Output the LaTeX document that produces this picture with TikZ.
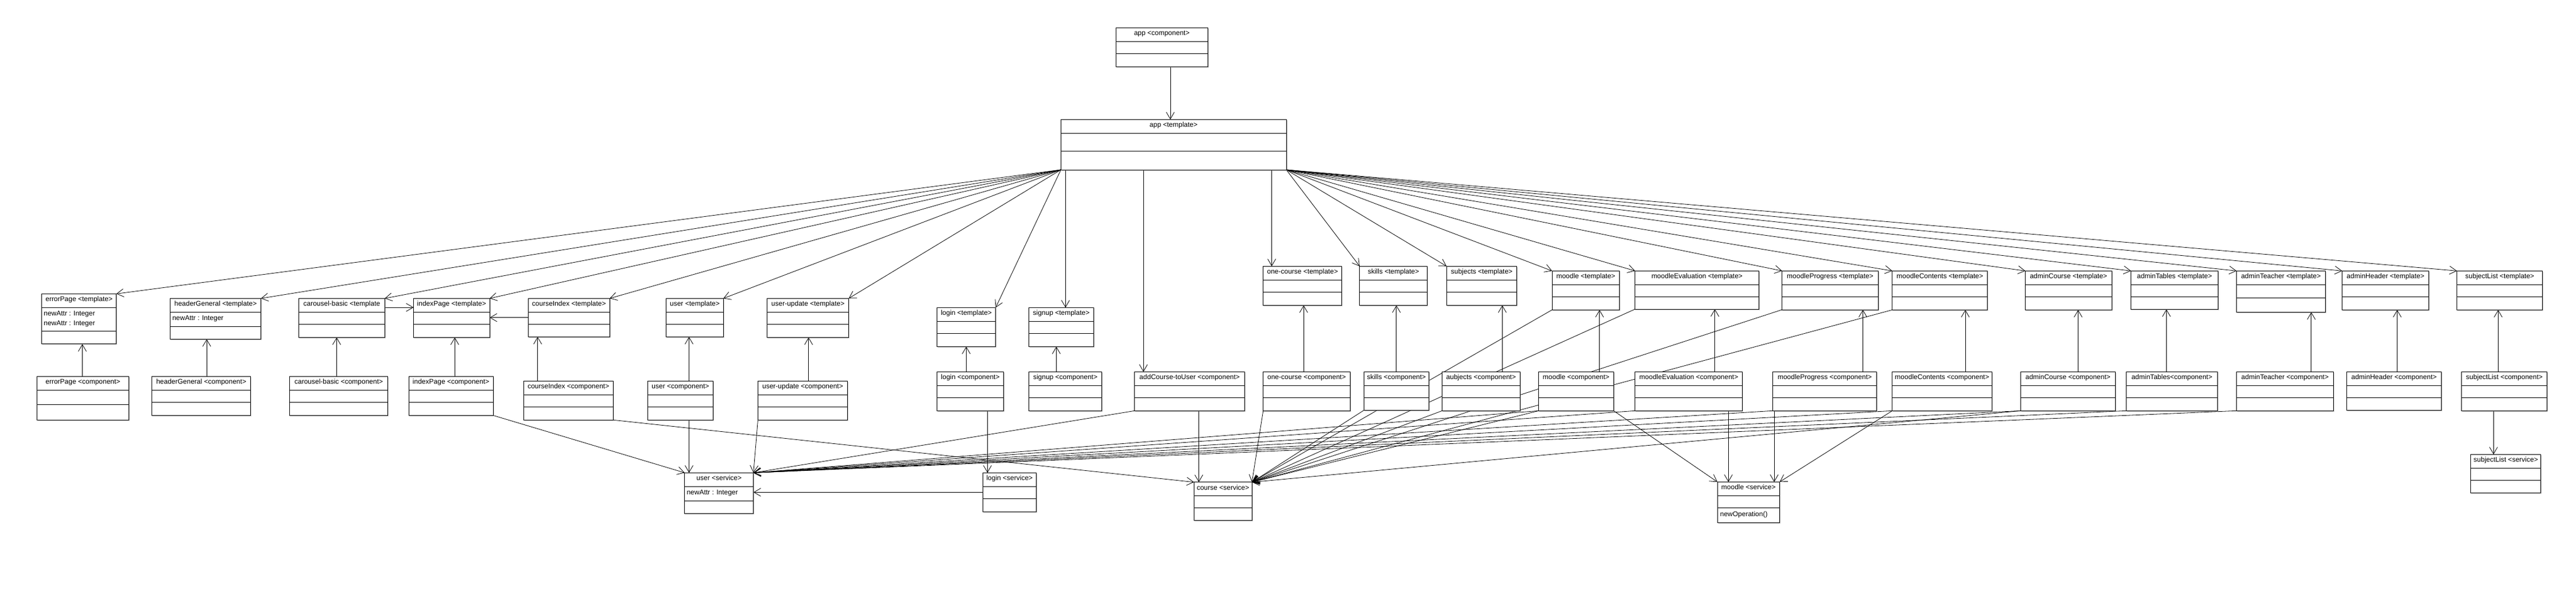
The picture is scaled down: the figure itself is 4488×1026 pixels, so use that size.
\documentclass[tikz,border=0pt]{standalone}
\usepackage{fontspec}
\setmainfont{Liberation Sans}
\usetikzlibrary{arrows.meta, calc, shadows, backgrounds}

% class box: name, left, top, width, middle height, bottom height, title
\newcommand{\classbox}[7]{%
  \node[classframe, minimum width=#4pt, minimum height={24pt+#5pt+#6pt}] (#1) at (#2,#3) {};
  \node[classtitle] (#1-title) at ([yshift=-13.5pt]#1.north) {#7};
  \draw[classline] ([yshift=-24pt]#1.north west) -- ([yshift=-24pt]#1.north east);
  \draw[classline] ([yshift={-24pt-#5pt}]#1.north west) -- ([yshift={-24pt-#5pt}]#1.north east);
}

\begin{document}
\begin{tikzpicture}[x=1pt, y=-1pt,
  classframe/.style={draw, fill=white, line width=1pt, anchor=north west, inner sep=0pt, outer sep=0pt,
    drop shadow={shadow xshift=1.5pt, shadow yshift=-1.5pt, fill=black!40, opacity=0.5}},
  classtitle/.style={anchor=base, inner sep=0pt, font=\fontsize{12}{14}\selectfont},
  classtext/.style={anchor=base west, inner sep=0pt, font=\fontsize{12}{14}\selectfont},
  classline/.style={line width=1pt},
  dep/.style={line width=0.8pt, -{Straight Barb[length=12pt, width=14pt]}}]
\useasboundingbox (0,0) rectangle (4488,1026);

% App
\classbox{appc}{1944}{48.3}{160.3}{21}{23}{app <component>}
\classbox{appt}{1848.3}{208.3}{392.7}{31}{32.7}{app <template>}

% Templates
\classbox{errt}{72.7}{512.3}{130}{41.6}{22}{errorPage <template>}
\classbox{hdrt}{296.6}{520.3}{158}{25}{22}{headerGeneral <template>}
\classbox{cart}{520.6}{520.3}{149.7}{21}{23}{carousel-basic <template}
\classbox{idxt}{720.4}{520.3}{132.7}{21}{23}{indexPage <template>}
\classbox{cidxt}{920.4}{520.3}{141.8}{21}{22}{courseIndex <template>}
\classbox{usert}{1160.7}{520.3}{99.5}{21}{22}{user <template>}
\classbox{updt}{1336.7}{520.3}{141.9}{21}{23}{user-update <template>}
\classbox{logint}{1632.5}{536.3}{102.2}{21}{23}{login <template>}
\classbox{signt}{1792.5}{536.3}{112.9}{21}{23}{signup <template>}
\classbox{onet}{2200.7}{464.3}{137.2}{21}{23}{one-course <template>}
\classbox{skillt}{2368.9}{464.3}{117.6}{21}{23}{skills <template>}
\classbox{subjt}{2520.4}{464.3}{122.2}{21}{23}{subjects <template>}
\classbox{moodt}{2704}{472.3}{117.7}{21}{23}{moodle <template>}
\classbox{evalt}{2848.7}{472.3}{215.8}{21}{21.7}{moodleEvaluation <template>}
\classbox{progt}{3104.7}{472.3}{167.6}{21}{22.7}{moodleProgress <template>}
\classbox{contt}{3296.7}{472.3}{166.1}{21}{23}{moodleContents <template>}
\classbox{acrst}{3528.5}{472.3}{150.7}{21}{23}{adminCourse <template>}
\classbox{atabt}{3712.6}{472.3}{151.7}{21}{22}{adminTables <template>}
\classbox{ateat}{3896.5}{472.3}{154.8}{23}{25}{adminTeacher <template>}
\classbox{ahdrt}{4080.5}{472.3}{151.3}{21}{23}{adminHeader <template>}
\classbox{slstt}{4280.5}{472.3}{149.3}{21}{23}{subjectList <template>}
\node[classtext] (errt-a1) at ([xshift=3.5pt, yshift=-38.4pt]errt.north west) {newAttr : Integer};
\node[classtext] (errt-a2) at ([xshift=3.5pt, yshift=-55.1pt]errt.north west) {newAttr : Integer};
\node[classtext] (hdrt-a1) at ([xshift=3.5pt, yshift=-38.4pt]hdrt.north west) {newAttr : Integer};

% Components
\classbox{errc}{64.5}{656.3}{159.9}{25}{27}{errorPage <component>}
\classbox{hdrc}{264.6}{656.3}{172.1}{21}{23}{headerGeneral <component>}
\classbox{carc}{504.6}{656.3}{171.1}{21}{23}{carousel-basic <component>}
\classbox{idxc}{712.2}{656.3}{147}{21}{23}{indexPage <component>}
\classbox{cidxc}{912.2}{664.3}{156.2}{21}{23}{courseIndex <component>}
\classbox{userc}{1128.6}{664.3}{113.7}{21}{23}{user <component>}
\classbox{updc}{1320.4}{664.3}{156.1}{21}{23}{user-update <component>}
\classbox{loginc}{1632.5}{648.3}{116}{21}{23}{login <component>}
\classbox{signc}{1792.5}{648.3}{127.1}{21}{23}{signup <component>}
\classbox{addc}{1976.6}{648.3}{192}{21}{23}{addCourse-toUser <component>}
\classbox{onec}{2200.7}{648.3}{151.5}{21}{23}{one-course <component>}
\classbox{skillc}{2376.3}{648.3}{113.1}{21}{22}{skills <component>}
\classbox{subjc}{2512.3}{648.3}{136.1}{21}{23}{aubjects <component>}
\classbox{moodc}{2680.5}{648.3}{130.9}{21}{23}{moodle <component>}
\classbox{evalc}{2848.7}{648.3}{187.1}{21}{23}{moodleEvaluation <component>}
\classbox{progc}{3088.3}{648.3}{181.5}{21}{23}{moodleProgress <component>}
\classbox{contc}{3296.7}{648.3}{173.6}{21}{23}{moodleContents <component>}
\classbox{acrsc}{3520.5}{648.3}{164.7}{21}{23}{adminCourse <component>}
\classbox{atabc}{3704.5}{648.3}{158.8}{21}{23}{adminTables<component>}
\classbox{ateac}{3896.5}{648.3}{168.9}{21}{23}{adminTeacher <component>}
\classbox{ahdrc}{4088.5}{648.3}{164.9}{21}{22}{adminHeader <component>}
\classbox{slstc}{4288.5}{648.3}{149.3}{21}{23}{subjectList <component>}

% Services
\classbox{users}{1192.8}{824.3}{119.9}{25}{22.4}{user <service>}
\classbox{logins}{1712.6}{824.3}{92.6}{21}{23}{login <service>}
\classbox{crss}{2080.2}{840.7}{101}{21}{22}{course <service>}
\classbox{moods}{2992.1}{840.3}{108.4}{21}{26}{moodle <service>}
\classbox{slsts}{4304.6}{792.3}{122.2}{21}{21.7}{subjectList <service>}
\node[classtext] (users-a1) at ([xshift=3.5pt, yshift=-38pt]users.north west) {newAttr : Integer};
\node[classtext] (moods-o1) at ([xshift=4.5pt, yshift=-59.7pt]moods.north west) {newOperation()};

\begin{scope}[on background layer]
\fill[white] (0,0) rectangle (4488,1026);

% app component to app template
\draw[dep] ([xshift=14.8pt]appc.south) -- ([xshift=14.8pt]appc.south |- appt.north);

% app template to the templates on the left
\draw[dep] (appt.south west) -- (errt.north east);
\draw[dep] (appt.south west) -- (hdrt.north east);
\draw[dep] (appt.south west) -- (cart.north east);
\draw[dep] (appt.south west) -- (idxt.north east);
\draw[dep] (appt.south west) -- (cidxt.north east);
\draw[dep] (appt.south west) -- (usert.north east);
\draw[dep] (appt.south west) -- (updt.north east);
\draw[dep] (appt.south west) -- (logint.north east);

% app template straight down
\draw[dep] ([xshift=7.4pt]signt.north |- appt.south) -- ([xshift=7.4pt]signt.north);
\draw[dep] ([xshift=-80.5pt]addc.north |- appt.south) -- ([xshift=-80.5pt]addc.north);
\draw[dep] ([xshift=-53.7pt]onet.north |- appt.south) -- ([xshift=-53.7pt]onet.north);

% app template to the templates on the right
\draw[dep] (appt.south east) -- (skillt.north west);
\draw[dep] (appt.south east) -- (subjt.north west);
\draw[dep] (appt.south east) -- (moodt.north west);
\draw[dep] (appt.south east) -- (evalt.north west);
\draw[dep] (appt.south east) -- (progt.north west);
\draw[dep] (appt.south east) -- (contt.north west);
\draw[dep] (appt.south east) -- (acrst.north west);
\draw[dep] (appt.south east) -- (atabt.north west);
\draw[dep] (appt.south east) -- (ateat.north west);
\draw[dep] (appt.south east) -- (ahdrt.north west);
\draw[dep] (appt.south east) -- (slstt.north west);

% templates to indexPage template
\draw[dep] ([yshift=18.3pt]cart.east) -- ([yshift=18.3pt]cart.east -| idxt.west);
\draw[dep] (cidxt.west) -- (cidxt.west -| idxt.east);

% components up to their templates
\draw[dep] ([xshift=-1pt]errc.north) -- ([xshift=-1pt]errc.north |- errt.south);
\draw[dep] ([xshift=9.5pt]hdrc.north) -- ([xshift=9.5pt]hdrc.north |- hdrt.south);
\draw[dep] ([xshift=-3.6pt]carc.north) -- ([xshift=-3.6pt]carc.north |- cart.south);
\draw[dep] ([xshift=6.6pt]idxc.north) -- ([xshift=6.6pt]idxc.north |- idxt.south);
\draw[dep] ([xshift=-53.6pt]cidxc.north) -- ([xshift=-53.6pt]cidxc.north |- cidxt.south);
\draw[dep] ([xshift=15pt]userc.north) -- ([xshift=15pt]userc.north |- usert.south);
\draw[dep] ([xshift=10.3pt]updc.north) -- ([xshift=10.3pt]updc.north |- updt.south);
\draw[dep] ([xshift=-7.1pt]loginc.north) -- ([xshift=-7.1pt]loginc.north |- logint.south);
\draw[dep] ([xshift=-15.7pt]signc.north) -- ([xshift=-15.7pt]signc.north |- signt.south);
\draw[dep] ([xshift=-5.2pt]onec.north) -- ([xshift=-5.2pt]onec.north |- onet.south);
\draw[dep] (skillc.north) -- (skillc.north |- skillt.south);
\draw[dep] ([xshift=37pt]subjc.north) -- ([xshift=37pt]subjc.north |- subjt.south);
\draw[dep] ([xshift=40.8pt]moodc.north) -- ([xshift=40.8pt]moodc.north |- moodt.south);
\draw[dep] ([xshift=45.4pt]evalc.north) -- ([xshift=45.4pt]evalc.north |- evalt.south);
\draw[dep] ([xshift=66.5pt]progc.north) -- ([xshift=66.5pt]progc.north |- progt.south);
\draw[dep] ([xshift=40.5pt]contc.north) -- ([xshift=40.5pt]contc.north |- contt.south);
\draw[dep] ([xshift=17.7pt]acrsc.north) -- ([xshift=17.7pt]acrsc.north |- acrst.south);
\draw[dep] ([xshift=-9.5pt]atabc.north) -- ([xshift=-9.5pt]atabc.north |- atabt.south);
\draw[dep] ([xshift=45.8pt]ateac.north) -- ([xshift=45.8pt]ateac.north |- ateat.south);
\draw[dep] ([xshift=5.5pt]ahdrc.north) -- ([xshift=5.5pt]ahdrc.north |- ahdrt.south);
\draw[dep] ([xshift=-10.8pt]slstc.north) -- ([xshift=-10.8pt]slstc.north |- slstt.south);

% user service
\draw[dep] (idxc.south east) -- (users.north west);
\draw[dep] ([xshift=15pt]userc.south) -- ([xshift=15pt]userc.south |- users.north);
\draw[dep] (updc.south west) -- (users.north east);
\draw[dep] (logins.west) -- (logins.west -| users.east);
\draw[dep] (addc.south west) -- (users.north east);
\draw[dep] (moodc.south west) -- (users.north east);
\draw[dep] (evalc.south west) -- (users.north east);
\draw[dep] (progc.south west) -- (users.north east);
\draw[dep] (contc.south west) -- (users.north east);
\draw[dep] (acrsc.south west) -- (users.north east);
\draw[dep] (atabc.south west) -- (users.north east);
\draw[dep] (ateac.south west) -- (users.north east);

% login service
\draw[dep] ([xshift=29.9pt]loginc.south) -- ([xshift=29.9pt]loginc.south |- logins.north);

% course service
\draw[dep] (cidxc.south east) -- (crss.north west);
\draw[dep] ([xshift=16pt]addc.south) -- ([xshift=16pt]addc.south |- crss.north);
\draw[dep] (onec.south west) -- (crss.north east);
\draw[dep] (skillc.south west) -- (crss.north east);
\draw[dep] (subjc.south west) -- (crss.north east);
\draw[dep] (moodc.south west) -- (crss.north east);
\draw[dep] (acrsc.south west) -- (crss.north east);
\draw[dep] (moodt.south west) -- (crss.north east);
\draw[dep] (evalt.south west) -- (crss.north east);
\draw[dep] (progt.south west) -- (crss.north east);
\draw[dep] (contt.south west) -- (crss.north east);

% moodle service
\draw[dep] (moodc.south east) -- (moods.north west);
\draw[dep] ([xshift=69pt]evalc.south) -- ([xshift=69pt]evalc.south |- moods.north);
\draw[dep] ([xshift=-88pt]progc.south) -- ([xshift=-88pt]progc.south |- moods.north);
\draw[dep] (contc.south west) -- (moods.north east);

% subjectList service
\draw[dep] ([xshift=-18.9pt]slstc.south) -- ([xshift=-18.9pt]slstc.south |- slsts.north);
\end{scope}
\end{tikzpicture}
\end{document}
